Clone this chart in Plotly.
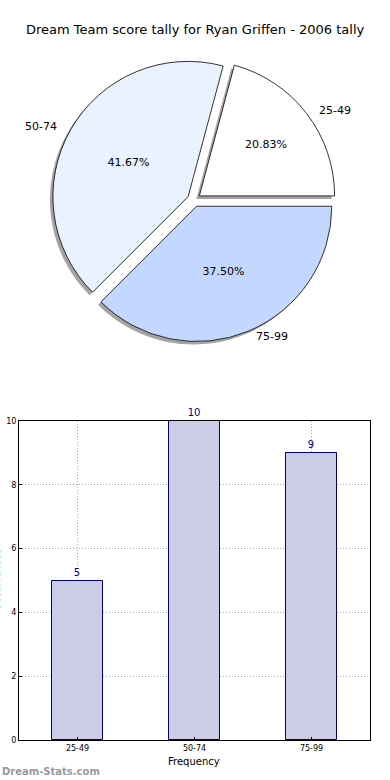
import math
import plotly.graph_objects as go

# ---- data ----
categories = ["25-49", "50-74", "75-99"]
counts = [5, 10, 9]
pie_colors = ["#FFFFFF", "#EAF1FF", "#C4D8FF"]
title_text = "Dream Team score tally for Ryan Griffen - 2006 tally"
x_title = "Frequency"
y_title = "Occurrences"
y_ticks = [0, 2, 4, 6, 8, 10]

W, H = 390, 780
FONT = "DejaVu Sans"

# pie geometry (pixels)
cx, cy = 194, 200
half = 142
pull = 0.05
r = half / (1 + pull)
total = sum(counts)
rot = 90 - 360 * counts[0] / total

def px_x(x):
    return x / W

def px_y(y):
    return 1 - y / H

fig = go.Figure()

# shadow
sh = 3
fig.add_trace(go.Pie(
    labels=categories, values=counts, sort=False,
    direction="counterclockwise", rotation=rot,
    pull=[pull] * len(counts),
    marker=dict(colors=["rgba(90,90,90,0.55)"] * 3, line=dict(width=0)),
    textinfo="none", hoverinfo="skip", showlegend=False,
    domain=dict(x=[px_x(cx - half - sh), px_x(cx + half - sh)],
                y=[px_y(cy + half + sh), px_y(cy - half + sh)]),
))

fig.add_trace(go.Pie(
    labels=categories, values=counts, sort=False,
    direction="counterclockwise", rotation=rot,
    pull=[pull] * len(counts),
    marker=dict(colors=pie_colors, line=dict(color="black", width=0.8)),
    texttemplate="%{percent:.2%}", textposition="inside",
    insidetextorientation="horizontal",
    textfont=dict(family=FONT, size=11, color="black"),
    showlegend=False,
    domain=dict(x=[px_x(cx - half), px_x(cx + half)],
                y=[px_y(cy + half), px_y(cy - half)]),
))

# outside labels (from data angles)
start = 0.0
annotations = []
for lab, v in zip(categories, counts):
    ang = start + v / total * 360 / 2
    start += v / total * 360
    a = math.radians(ang)
    lx = cx + (1.1 + pull) * r * 1.0 * math.cos(a)
    ly = cy - (1.1 + pull) * r * 0.95 * math.sin(a)
    annotations.append(dict(
        x=px_x(lx), y=px_y(ly), xref="paper", yref="paper",
        text=lab, showarrow=False,
        xanchor="left" if math.cos(a) > 0 else "right", yanchor="middle",
        font=dict(family=FONT, size=11, color="black"),
    ))

annotations.append(dict(
    x=0.5, y=px_y(30), xref="paper", yref="paper", text=title_text,
    showarrow=False, xanchor="center", yanchor="middle",
    font=dict(family=FONT, size=13, color="black"),
))
annotations.append(dict(
    x=px_x(194), y=px_y(761), xref="paper", yref="paper", text=x_title,
    showarrow=False, xanchor="center", yanchor="middle",
    font=dict(family=FONT, size=10, color="black"),
))
annotations.append(dict(
    x=px_x(-4), y=px_y(580), xref="paper", yref="paper", text=y_title,
    showarrow=False, xanchor="center", yanchor="middle", textangle=-90,
    font=dict(family=FONT, size=10, color="black"),
))
annotations.append(dict(
    x=0, y=px_y(771), xref="paper", yref="paper", text="<b>Dream-Stats.com</b>",
    showarrow=False, xanchor="left", yanchor="middle",
    font=dict(family=FONT, size=10, color="#999999"),
))

# bar chart
fig.add_trace(go.Bar(
    x=categories, y=counts, width=0.44,
    marker=dict(color="#CCCCE6", line=dict(color="#000080", width=1)),
    text=[str(c) for c in counts], textposition="outside", cliponaxis=False,
    textfont=dict(family=FONT, size=10, color="#00008B"),
    showlegend=False, xaxis="x", yaxis="y",
))

fig.update_layout(
    width=W, height=H, margin=dict(l=0, r=0, t=0, b=0),
    paper_bgcolor="white", plot_bgcolor="white",
    annotations=annotations,
    xaxis=dict(domain=[px_x(19), px_x(370)], range=[-0.5, 2.5],
               anchor="y", showline=True, linecolor="black", linewidth=1, mirror=True,
               showgrid=True, gridcolor="#aaaaaa", griddash="1px,2px", gridwidth=1,
               ticks="inside", ticklen=3, tickcolor="black",
               tickfont=dict(family=FONT, size=8, color="black"), automargin=False,
               fixedrange=True),
    yaxis=dict(domain=[px_y(740), px_y(421)], range=[0, 10], tickvals=y_ticks,
               anchor="x", showline=True, linecolor="black", linewidth=1, mirror=True,
               showgrid=True, gridcolor="#aaaaaa", griddash="1px,2px", gridwidth=1,
               ticks="inside", ticklen=3, tickcolor="black", zeroline=False,
               tickfont=dict(family=FONT, size=8, color="black"), automargin=False,
               fixedrange=True),
    bargap=0,
)

fig.write_html("out.html", config={"displayModeBar": False},
               post_script="document.body.style.margin='0';")
